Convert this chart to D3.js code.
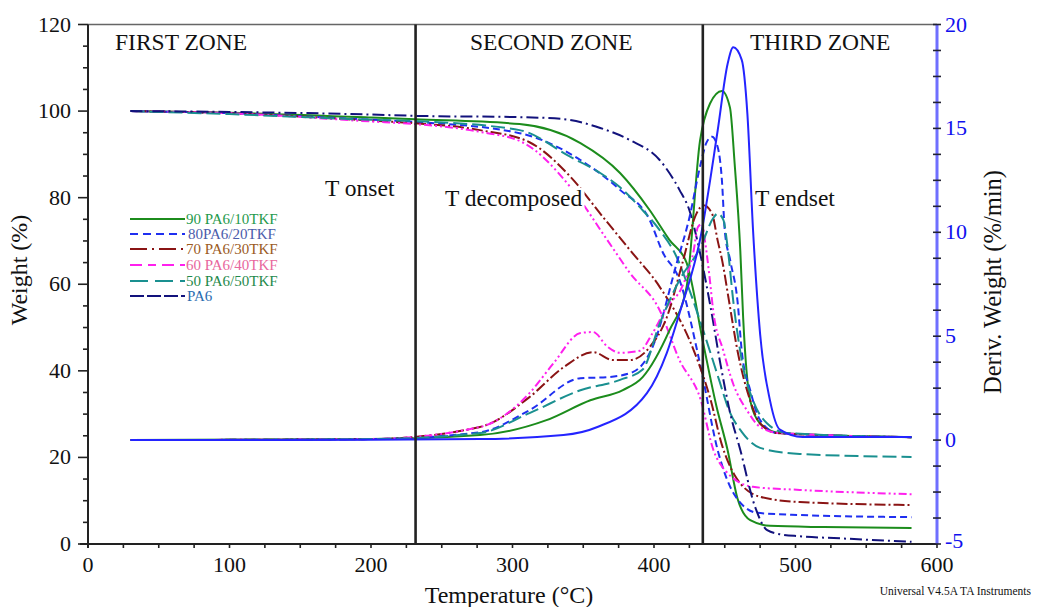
<!DOCTYPE html>
<html><head><meta charset="utf-8">
<script src="https://cdn.jsdelivr.net/npm/d3@7"></script>
<style>body{margin:0;background:#fff}svg{display:block;font-family:"Liberation Serif","Times New Roman",serif}</style>
</head><body><svg id="c" width="1038" height="607"></svg>
<script>
// ---- data (Temperature °C, value) ----
const w90  = [[30,100],[100,99.6],[200,98.5],[231,98.1],[305,97],[348,92.6],[376,85.7],[397,77.1],[411,70.2],[423,65],[435,46],[444,32],[452,21.7],[459,10.5],[468,5.5],[482,4.2],[520,3.9],[582,3.7]];
const w80  = [[30,100],[100,99.5],[200,98],[231,97.5],[305,94.9],[348,88.7],[376,81.8],[397,74.8],[406,67.5],[418,61],[433,40.9],[445,21.7],[457,11.3],[473,7.2],[503,6.7],[582,6.2]];
const w70  = [[30,100],[100,99.5],[200,97.8],[231,97.2],[277,95.6],[312,92.8],[341,84.8],[364,75.5],[383,67.9],[404,59.4],[428,44.8],[440,33.3],[448,22.9],[457,15.9],[475,10.9],[503,9.7],[582,9]];
const w60  = [[30,100],[100,99.5],[200,97.6],[231,97],[277,95.2],[307,92.8],[341,82.4],[367,70.2],[383,62.6],[404,54],[418,42.5],[433,33.3],[442,21.7],[450,17.1],[470,13.2],[503,12.5],[582,11.5]];
const w50  = [[30,100],[100,99.3],[200,98],[231,97.7],[305,95.6],[341,89.4],[362,85.7],[376,82.4],[390,77.8],[404,72.5],[416,66.3],[425,58.7],[437,47.1],[446,37.9],[453,30.9],[462,25.9],[475,22.2],[503,20.8],[582,20.1]];
const wPA6 = [[30,100],[100,99.8],[200,99.2],[231,98.9],[305,98.6],[334,98.2],[362,96.1],[383,93.3],[404,88.7],[418,81.8],[425,77.1],[433,66.5],[440,54.7],[447,41.5],[454,30],[461,21.7],[471,9],[480,3.2],[490,2.2],[503,1.8],[538,1.2],[582,0.5]];

const d90  = [[30,0],[200,0.05],[277,0.24],[324,0.96],[355,1.92],[378,2.41],[392,3.03],[411,5.29],[423,7.36],[432.5,14.4],[439.6,16.2],[448,16.8],[453.7,16],[457,13.3],[461,9.1],[463,5.9],[468,1.9],[475,0.8],[489,0.34],[582,0.14]];
const d80  = [[30,0],[200,0.05],[277,0.38],[312,1.44],[348,2.98],[367,3.03],[385,3.27],[399,4.48],[416,8.5],[425,10.7],[433,13.3],[437,14.3],[441,14.6],[445,14.1],[448,12.5],[450,10.1],[454,8.6],[459,6.7],[462,4.3],[468,2.4],[475,0.96],[487,0.34],[582,0.14]];
const d70  = [[30,0],[200,0.05],[277,0.63],[312,2.07],[336,3.5],[357,4.23],[371,3.85],[383,3.85],[397,4.48],[409,5.9],[420,8.5],[430,10.9],[435,11.3],[441,10.9],[445,9.6],[448.3,8.6],[453,6.7],[459,4.3],[468,1.9],[475,0.8],[487,0.34],[582,0.14]];
const d60  = [[30,0],[200,0.05],[277,0.63],[312,2.26],[329,3.7],[348,5.15],[357,5.2],[367,4.5],[376,4.2],[390,4.3],[399,5.15],[409,6.4],[420,7.4],[428,9.1],[431,10.25],[434,10.4],[436,9.6],[439.5,7.7],[441.7,6.3],[449,4.3],[456,2.7],[466,1.4],[475,0.63],[489,0.34],[582,0.14]];
const d50  = [[30,0],[200,0.05],[277,0.34],[312,1.3],[348,2.4],[376,2.9],[392,3.4],[404,5.6],[418,7.7],[433,9.3],[442,10.7],[445,10.9],[449,10.6],[452,9.3],[456,6.7],[463,3.5],[470,1.9],[480,0.8],[494,0.34],[582,0.14]];
const dPA6 = [[30,0],[200,0.02],[277,0.05],[336,0.24],[360,0.63],[395,2.26],[409,4.19],[418,6.1],[433,9.8],[445,14.9],[452,18.1],[456,18.9],[462,18.3],[466,15.7],[470,10.1],[475,5.1],[482,1.9],[489,0.5],[505,0.15],[582,0.15]];

const seriesNames = ["90 PA6/10TKF","80PA6/20TKF","70 PA6/30TKF","60 PA6/40TKF","50 PA6/50TKF","PA6"];
const xTicks = [0,100,200,300,400,500,600];
const yTicks = [0,20,40,60,80,100,120];
const y2Ticks = [-5,0,5,10,15,20];
const zoneBounds = [231.5,434.5];
const zoneLabels = ["FIRST ZONE","SECOND ZONE","THIRD ZONE"];
const eventLabels = ["T onset","T decomposed","T endset"];

// ---- styles ----
const styles = [
  {w:w90, d:d90, col:"#1c8c1c", dcol:"#1c8c1c", dash:null, tcol:"#1f9a4c"},
  {w:w80, d:d80, col:"#1f2ff0", dcol:"#1f2ff0", dash:"7,4", tcol:"#4b5cab"},
  {w:w70, d:d70, col:"#8a1414", dcol:"#8a1414", dash:"11,3,2,3", tcol:"#9b5b1e"},
  {w:w60, d:d60, col:"#ff20ee", dcol:"#ff20ee", dash:"8,3,2,3,2,3", tcol:"#e8679d"},
  {w:w50, d:d50, col:"#1a9090", dcol:"#1a9090", dash:"14,5", tcol:"#1f8a4b"},
  {w:wPA6, d:dPA6, col:"#12127c", dcol:"#2424ff", dash:"12,4,2,4", ddash:null, tcol:"#2b6cb0"}
];
const legendDash = [null,"8,5","17,5,2,5","12,6,8,6","18,7","14,3"];

const svg = d3.select("#c");
const L=88, R=937, T=24.5, B=544;
const x = d3.scaleLinear().domain([0,600]).range([L,R]);
const y = d3.scaleLinear().domain([0,120]).range([B,T]);
const y2 = d3.scaleLinear().domain([-5,20]).range([B,T]);

// top border
svg.append("line").attr("x1",L).attr("x2",R).attr("y1",T).attr("y2",T).attr("stroke","#666").attr("stroke-width",1.5);

// curves
const lw = d3.line().x(d=>x(d[0])).y(d=>y(d[1])).curve(d3.curveMonotoneX);
const ld = d3.line().x(d=>x(d[0])).y(d=>y2(d[1])).curve(d3.curveMonotoneX);
const g = svg.append("g");
styles.forEach(s=>{
  g.append("path").attr("d",lw(s.w)).attr("fill","none").attr("stroke",s.col).attr("stroke-width",2).attr("stroke-dasharray",s.dash);
});
styles.forEach(s=>{
  const dd = ("ddash" in s) ? s.ddash : s.dash;
  g.append("path").attr("d",ld(s.d)).attr("fill","none").attr("stroke",s.dcol).attr("stroke-width",2).attr("stroke-dasharray",dd);
});

// zone lines
zoneBounds.forEach(t=>{
  svg.append("line").attr("x1",x(t)).attr("x2",x(t)).attr("y1",T).attr("y2",B).attr("stroke","#222").attr("stroke-width",2.6);
});

// zone labels
const zx=[115,470,750];
zoneLabels.forEach((t,i)=>svg.append("text").attr("x",zx[i]).attr("y",50).attr("font-size",23.5).attr("fill","#111").text(t));

// event labels with white background
const ev=[[325,196],[445,206],[755,206]];
eventLabels.forEach((t,i)=>{
  const tx = svg.append("text").attr("x",ev[i][0]).attr("y",ev[i][1]).attr("font-size",23.5).attr("fill","#111").text(t);
  const bb = tx.node().getBBox();
  svg.insert("rect","text").attr("x",bb.x-2).attr("y",bb.y+3).attr("width",bb.width+4).attr("height",bb.height-4).attr("fill","#fff");
});
svg.selectAll("text").raise();

// left axis
const ax = svg.append("g");
ax.append("line").attr("x1",L).attr("x2",L).attr("y1",T).attr("y2",B+4).attr("stroke","#222").attr("stroke-width",2);
d3.range(0,121,5).forEach(v=>{
  const major = v%20===0;
  ax.append("line").attr("x1",L-(major?10:5)).attr("x2",L).attr("y1",y(v)).attr("y2",y(v)).attr("stroke","#222").attr("stroke-width",1.6);
});
yTicks.forEach(v=>ax.append("text").attr("x",71).attr("y",y(v)+7).attr("text-anchor","end").attr("font-size",22).attr("fill","#111").text(v));

// bottom axis
ax.append("line").attr("x1",L-8).attr("x2",R).attr("y1",B).attr("y2",B).attr("stroke","#222").attr("stroke-width",2);
d3.range(0,601,25).forEach(v=>{
  ax.append("line").attr("x1",x(v)).attr("x2",x(v)).attr("y1",B).attr("y2",B+4).attr("stroke","#222").attr("stroke-width",1.6);
});
xTicks.forEach(v=>ax.append("text").attr("x",x(v)).attr("y",572).attr("text-anchor","middle").attr("font-size",22).attr("fill","#111").text(v));

// right axis
ax.append("line").attr("x1",R).attr("x2",R).attr("y1",T).attr("y2",B).attr("stroke","#6f6fff").attr("stroke-width",3);
d3.range(-5,20.01,1.25).forEach(v=>{
  ax.append("line").attr("x1",R-4).attr("x2",R+4).attr("y1",y2(v)).attr("y2",y2(v)).attr("stroke","#223").attr("stroke-width",1.6);
});
y2Ticks.forEach(v=>ax.append("text").attr("x",945).attr("y",y2(v)+(v===-5?4:7)).attr("font-size",22).attr("fill","#1010ee").text(v));

// axis titles
svg.append("text").attr("transform","translate(27,270) rotate(-90)").attr("text-anchor","middle").attr("font-size",24).attr("fill","#111").text("Weight (%)");
svg.append("text").attr("transform","translate(1001,282) rotate(-90)").attr("text-anchor","middle").attr("font-size",24.5).attr("fill","#111").text("Deriv. Weight (%/min)");
svg.append("text").attr("x",509).attr("y",603).attr("text-anchor","middle").attr("font-size",24).attr("fill","#111").text("Temperature (°C)");
svg.append("text").attr("x",1031).attr("y",595).attr("text-anchor","end").attr("font-size",11.5).attr("fill","#111").text("Universal V4.5A TA Instruments");

// legend
const lg = svg.append("g");
const ly=[219,234,249,265,281,296];
seriesNames.forEach((n,i)=>{
  lg.append("line").attr("x1",130).attr("x2",185).attr("y1",ly[i]).attr("y2",ly[i]).attr("stroke",styles[i].col).attr("stroke-width",2).attr("stroke-dasharray",legendDash[i]);
  lg.append("text").attr("x",i===5?187:i===1?188:186).attr("y",ly[i]+5).attr("font-size",15).attr("fill",styles[i].tcol).text(n);
});
</script></body></html>
